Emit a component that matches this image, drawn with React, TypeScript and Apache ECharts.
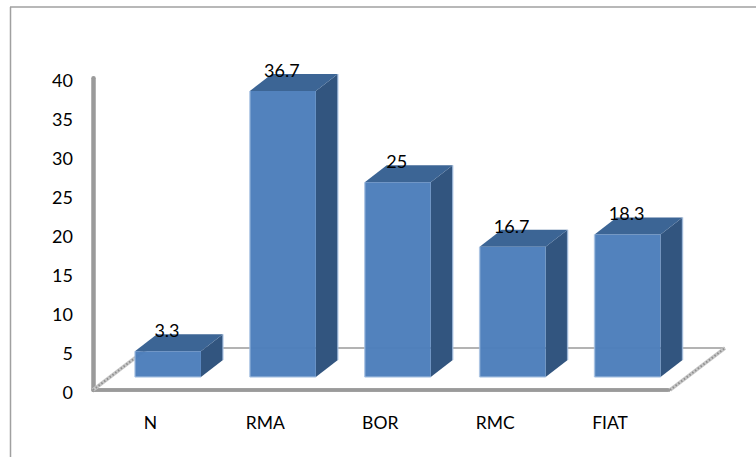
import React, { useEffect, useRef } from "react";
import * as echarts from "echarts";

const categories = ["N", "RMA", "BOR", "RMC", "FIAT"];
const values = [3.3, 36.7, 25, 16.7, 18.3];
const valueLabels = ["3.3", "36.7", "25", "16.7", "18.3"];
const axisMin = 0;
const axisMax = 40;
const axisStep = 5;

const FONT = "Lato, 'Open Sans', sans-serif";
const FRONT = "#4c7ebb";
const TOP = "#3c6595";
const SIDE = "#32557f";
const EDGE = "rgba(165,192,226,0.75)";
const AXIS = "#9a9a9a";

// Offset of a bar's front face from the floor's front edge, and its extrusion.
const FRONT_DX = 17.5;
const FRONT_DY = -13;
const DEPTH_X = 22;
const DEPTH_Y = -17;
const BAR_WIDTH = 66;

// Floor's receding depth, and how far it runs past the last category.
const FLOOR_DX = 55;
const FLOOR_DY = -42;
const FLOOR_OVERRUN = 2.5;

function renderFloor(params: any) {
  const { x, y, width, height } = params.coordSys;
  const bottom = y + height;
  const right = x + width + FLOOR_OVERRUN;
  const backY = bottom + FLOOR_DY;
  const rail = (x1: number, x2: number) => [
    { type: "line", shape: { x1, y1: bottom, x2, y2: backY }, style: { stroke: "#c6c6c6", lineWidth: 3.5 } },
    {
      type: "line",
      shape: { x1, y1: bottom, x2, y2: backY },
      style: { stroke: "#8f8f8f", lineWidth: 2, lineDash: [1.5, 2] },
    },
  ];
  return {
    type: "group",
    children: [
      {
        type: "line",
        shape: { x1: x + FLOOR_DX, y1: backY, x2: right + FLOOR_DX, y2: backY },
        style: { stroke: AXIS, lineWidth: 1.5 },
      },
      {
        type: "line",
        shape: { x1: x, y1: bottom, x2: right, y2: bottom },
        style: { stroke: AXIS, lineWidth: 3.5 },
      },
      ...rail(x, x + FLOOR_DX),
      ...rail(right, right + FLOOR_DX),
    ],
  };
}

function renderBar(params: any, api: any) {
  const index = api.value(0);
  const [cx, baseY] = api.coord([index, 0]);
  const [, topY] = api.coord([index, api.value(1)]);
  const l = cx + FRONT_DX - BAR_WIDTH / 2;
  const r = l + BAR_WIDTH;
  const t = topY + FRONT_DY;
  const b = baseY + FRONT_DY;
  const edge = (x1: number, y1: number, x2: number, y2: number) => ({
    type: "line",
    shape: { x1, y1, x2, y2 },
    style: { stroke: EDGE, lineWidth: 1.5 },
  });
  return {
    type: "group",
    children: [
      {
        type: "polygon",
        shape: { points: [[r, t], [r + DEPTH_X, t + DEPTH_Y], [r + DEPTH_X, b + DEPTH_Y], [r, b]] },
        style: { fill: SIDE },
      },
      {
        type: "polygon",
        shape: { points: [[l, t], [l + DEPTH_X, t + DEPTH_Y], [r + DEPTH_X, t + DEPTH_Y], [r, t]] },
        style: { fill: TOP },
      },
      {
        type: "rect",
        shape: { x: l, y: t, width: BAR_WIDTH, height: b - t },
        style: { fill: FRONT, opacity: 0.97 },
      },
      edge(l, t, l, b),
      edge(l, b, r, b),
      edge(r + DEPTH_X, t + DEPTH_Y, r + DEPTH_X, b + DEPTH_Y),
      {
        type: "text",
        style: {
          x: (l + r) / 2 - 1,
          y: t - 21,
          text: valueLabels[params.dataIndex],
          fill: "#000",
          font: `18px ${FONT}`,
          align: "center",
          verticalAlign: "middle",
        },
      },
    ],
  };
}

export default function App() {
  const ref = useRef<HTMLDivElement>(null);

  useEffect(() => {
    document.body.style.margin = "0";
    const chart = echarts.init(ref.current!, undefined, { renderer: "svg" });
    chart.setOption({
      animation: false,
      backgroundColor: "#fff",
      graphic: [
        { type: "line", shape: { x1: 10.5, y1: 7, x2: 10.5, y2: 457 }, style: { stroke: "#a0a0a0", lineWidth: 1.5 } },
        { type: "line", shape: { x1: 10, y1: 7, x2: 756, y2: 7 }, style: { stroke: "#a0a0a0", lineWidth: 1.5 } },
      ],
      grid: { left: 93, right: 88.5, top: 78.3, bottom: 67 },
      xAxis: {
        type: "category",
        data: categories,
        axisLine: { lineStyle: { color: AXIS, width: 3.5 } },
        axisTick: { show: false },
        axisLabel: { color: "#000", fontFamily: FONT, fontSize: 17.5, margin: 23 },
      },
      yAxis: {
        type: "value",
        min: axisMin,
        max: axisMax,
        interval: axisStep,
        axisLine: { show: true, lineStyle: { color: AXIS, width: 4.5 } },
        axisTick: { show: false },
        splitLine: { show: false },
        axisLabel: {
          margin: 20,
          formatter: "{tick|{value}}",
          rich: { tick: { color: "#000", fontFamily: FONT, fontSize: 18, padding: [4, 0, 0, 0] } },
        },
      },
      series: [
        { type: "custom", z: 1, silent: true, clip: false, data: [[0]], renderItem: renderFloor },
        {
          type: "custom",
          z: 3,
          silent: true,
          clip: false,
          encode: { x: 0, y: 1 },
          data: values.map((v, i) => [i, v]),
          renderItem: renderBar,
        },
      ],
    });
    return () => chart.dispose();
  }, []);

  return <div ref={ref} style={{ width: 756, height: 457 }} />;
}
